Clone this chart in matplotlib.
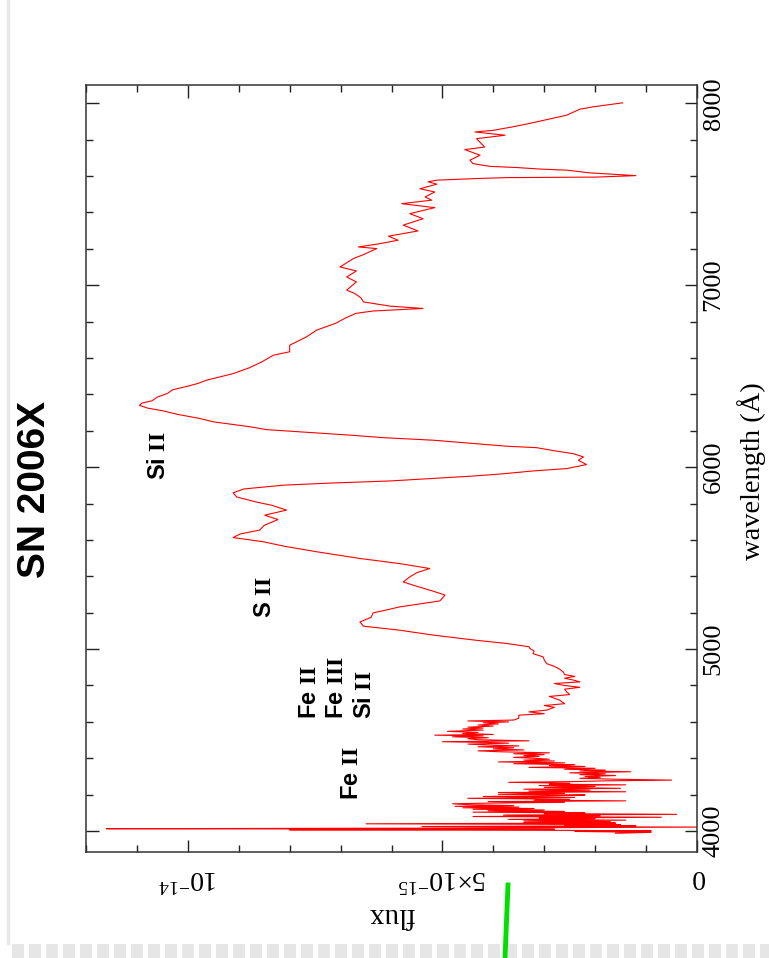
import matplotlib
matplotlib.use("Agg")
import matplotlib.pyplot as plt
from matplotlib.ticker import MultipleLocator, FixedLocator
from matplotlib.lines import Line2D
from matplotlib.patches import Rectangle

# spectrum of SN 2006X, wavelength in Angstrom, flux in units of 1e-15
wave = [3988, 3993, 3998, 4001, 4004, 4007, 4010, 4013, 4016, 4019,
        4022, 4025, 4029, 4033, 4036, 4040, 4044, 4048, 4052, 4056,
        4060, 4064, 4068, 4072, 4076, 4080, 4084, 4088, 4092, 4096,
        4100, 4104, 4108, 4112, 4116, 4120, 4124, 4128, 4132, 4136,
        4140, 4145, 4150, 4154, 4158, 4162, 4166, 4170, 4175, 4180,
        4185, 4190, 4194, 4198, 4202, 4207, 4212, 4216, 4220, 4225,
        4230, 4235, 4240, 4245, 4250, 4254, 4258, 4263, 4268, 4272,
        4276, 4280, 4285, 4290, 4295, 4300, 4305, 4310, 4315, 4320,
        4326, 4330, 4335, 4340, 4345, 4350, 4355, 4360, 4365, 4370,
        4375, 4380, 4385, 4390, 4395, 4400, 4405, 4410, 4415, 4420,
        4425, 4430, 4436, 4441, 4446, 4452, 4458, 4463, 4468, 4473,
        4478, 4483, 4487, 4491, 4496, 4502, 4508, 4513, 4518, 4523,
        4527, 4531, 4536, 4542, 4548, 4555, 4561, 4566, 4571, 4577,
        4583, 4589, 4595, 4600, 4605, 4610, 4620, 4637, 4645, 4655,
        4665, 4680, 4690, 4700, 4720, 4740, 4750, 4765, 4780, 4790,
        4800, 4811, 4820, 4830, 4840, 4850, 4860, 4875, 4890, 4905,
        4920, 4940, 4957, 4975, 4990, 5003, 5013, 5031, 5049, 5077,
        5104, 5126, 5149, 5175, 5199, 5215, 5232, 5250, 5265, 5280,
        5297, 5320, 5345, 5369, 5397, 5420, 5443, 5470, 5498, 5535,
        5565, 5590, 5613, 5632, 5654, 5680, 5712, 5736, 5764, 5791,
        5808, 5836, 5859, 5880, 5901, 5913, 5924, 5938, 5951, 5962,
        5979, 5992, 6014, 6038, 6056, 6074, 6090, 6107, 6115, 6133,
        6148, 6162, 6176, 6194, 6206, 6222, 6249, 6267, 6290, 6310,
        6325, 6340, 6352, 6365, 6385, 6405, 6425, 6445, 6460, 6478,
        6514, 6545, 6578, 6615, 6634, 6670, 6716, 6753, 6790, 6820,
        6845, 6858, 6872, 6885, 6908, 6930, 6954, 6973, 7018, 7045,
        7078, 7100, 7146, 7168, 7201, 7210, 7228, 7247, 7269, 7298,
        7330, 7365, 7393, 7426, 7448, 7467, 7485, 7512, 7530, 7555,
        7568, 7577, 7586, 7591, 7594, 7602, 7617, 7632, 7638, 7646,
        7653, 7668, 7687, 7714, 7745, 7759, 7805, 7824, 7842, 7851,
        7869, 7885, 7910, 7934, 7967, 7980, 8002]
flux = [1.6, 0.9, 2.4, 0.9, 2.7, 8.0, 2.8, 11.6, 5.4, 2.8,
        -0.05, 5.4, 1.2, 2.6, 1.5, 6.5, 1.6, 3.4, 1.7, 3.4,
        1.4, 3.7, 2.0, 3.1, 0.7, 4.4, 1.9, 3.8, 0.4, 3.0,
        2.2, 4.4, 2.6, 4.1, 3.0, 4.4, 3.2, 4.6, 3.5, 4.75,
        3.6, 4.5, 4.8, 4.0, 2.6, 4.1, 1.4, 3.2, 2.5, 4.5,
        2.4, 4.2, 2.8, 2.2, 3.9, 2.6, 3.9, 1.4, 3.3, 2.1,
        3.4, 1.5, 3.0, 2.0, 3.1, 1.4, 2.9, 2.5, 3.7, 2.4,
        1.8, 0.5, 1.6, 2.3, 1.9, 2.2, 1.6, 2.3, 1.8, 2.5,
        1.3, 2.3, 1.8, 2.6, 2.0, 3.3, 2.2, 2.9, 2.4, 3.6,
        2.6, 3.9, 2.8, 3.4, 2.9, 3.2, 3.6, 3.1, 3.4, 3.0,
        3.6, 2.9, 3.9, 4.3, 3.4, 4.0, 3.6, 4.3, 3.5, 4.1,
        4.5, 3.7, 4.1, 5.0, 3.3, 4.3, 4.5, 4.1, 4.8, 4.2,
        5.15, 4.0, 4.6, 4.3, 4.9, 4.2, 4.6, 4.2, 4.5, 4.0,
        4.3, 3.9, 4.2, 3.7, 4.5, 3.6, 3.5, 3.5, 3.0, 3.3,
        2.95, 2.8, 3.0, 2.6, 2.7, 2.9, 2.5, 2.56, 2.6, 2.3,
        2.6, 2.8, 2.3, 2.43, 2.6, 2.4, 2.6, 2.63, 2.7, 2.8,
        2.95, 3.0, 3.02, 3.22, 3.2, 3.28, 3.3, 3.74, 4.35, 5.18,
        5.84, 6.55, 6.62, 6.4, 6.36, 6.1, 5.84, 5.4, 5.05, 5.0,
        4.95, 5.2, 5.5, 5.77, 5.64, 5.5, 5.25, 5.84, 6.62, 7.47,
        8.1, 8.52, 9.11, 8.98, 8.59, 8.5, 8.23, 8.49, 8.06, 8.36,
        8.65, 9.04, 9.11, 8.9, 8.12, 7.14, 6.03, 5.18, 4.40, 3.87,
        3.22, 2.56, 2.17, 2.33, 2.23, 2.43, 2.8, 3.15, 3.74, 4.52,
        5.18, 6.16, 6.82, 7.80, 8.45, 8.78, 9.50, 9.76, 10.2, 10.5,
        10.8, 10.95, 10.9, 10.7, 10.6, 10.4, 10.3, 10.0, 9.8, 9.63,
        9.11, 8.8, 8.55, 8.32, 8.0, 8.0, 7.67, 7.47, 7.1, 6.9,
        6.7, 6.36, 5.38, 6.03, 6.55, 6.6, 6.72, 6.88, 6.69, 6.88,
        6.69, 7.01, 6.75, 6.55, 6.29, 6.65, 6.23, 5.87, 6.06, 5.48,
        5.77, 5.38, 5.64, 5.15, 5.80, 5.21, 5.34, 5.15, 5.44, 5.11,
        5.28, 5.11, 4.33, 3.74, 1.97, 1.20, 2.10, 2.56, 3.08, 3.51,
        4.07, 4.40, 4.46, 4.26, 4.56, 4.17, 4.33, 3.77, 4.36, 4.0,
        3.64, 3.35, 2.95, 2.56, 2.30, 2.04, 1.46]

# line identifications: text, flux, wavelength where the text starts
ion_names = ["Si $\\mathbf{II}$", "S $\\mathbf{II}$", "Fe $\\mathbf{II}$",
             "Fe $\\mathbf{III}$", "Si $\\mathbf{II}$", "Fe $\\mathbf{II}$"]
ion_flux = [10.57, 8.49, 7.62, 7.09, 6.54, 6.78]
ion_wave = [5929, 5170, 4615, 4615, 4615, 4170]

plt.rcParams['mathtext.fontset'] = 'custom'
plt.rcParams['mathtext.rm'] = 'Liberation Serif'
plt.rcParams['mathtext.it'] = 'Liberation Serif:italic'
plt.rcParams['mathtext.bf'] = 'Liberation Serif:bold'
plt.rcParams['font.family'] = 'Liberation Serif'

fig = plt.figure(figsize=(7.69, 9.58), dpi=100)
ax = fig.add_axes([86/769, 106/958, 611/769, 767/958])

ax.plot([f*1e-15 for f in flux], wave, color='#ff0000', lw=0.8)

ax.set_xlim(12e-15, 0)
ax.set_ylim(3885, 8100)

ax.xaxis.set_major_locator(FixedLocator([0, 5e-15, 1e-14]))
ax.xaxis.set_minor_locator(MultipleLocator(1e-15))
ax.set_xticklabels(['0', r'$5{\times}10^{-15}$', r'$10^{-14}$'])
ax.yaxis.set_major_locator(MultipleLocator(1000))
ax.yaxis.set_minor_locator(MultipleLocator(200))

ax.tick_params(which='both', direction='in', top=True, bottom=True,
               left=True, right=True, labelleft=False, labelright=True,
               color='#222222', width=1.0)
ax.tick_params(which='major', length=9)
ax.tick_params(which='minor', length=5)
ax.tick_params(axis='x', labelsize=20, pad=9, labelrotation=180)
ax.tick_params(axis='y', labelsize=19, pad=4, labelrotation=90)
for lab in ax.get_yticklabels():
    lab.set_verticalalignment('center')
for sp in ax.spines.values():
    sp.set_color('#333333')
    sp.set_linewidth(1.1)

for name, fx, wl in zip(ion_names, ion_flux, ion_wave):
    ax.text(fx*1e-15, wl, name, rotation=90, ha='center', va='bottom',
            fontsize=17, fontweight='bold', family='Liberation Sans')

fig.text(35/769, 1-489/958, 'SN 2006X', rotation=90, ha='center', va='center',
         fontsize=28, fontweight='bold', family='Liberation Sans')
fig.text(391/769, 1-915/958, 'flux', rotation=180, ha='center', va='center',
         fontsize=21)
fig.text(752/769, 1-471/958, 'wavelength (Å)', rotation=90, ha='center',
         va='center', fontsize=20.5)

# page border and marker line along the bottom
fig.add_artist(Line2D([8/769, 8/769], [15/958, 1], color='#e8e8e8', lw=2.5))
x0 = 12
while x0 < 769:
    fig.add_artist(Rectangle((x0/769, 0), 12/769, 14/958, color='#e6e6e6',
                             lw=0))
    x0 += 17
fig.add_artist(Line2D([508/769, 505/769], [1-885/958, 0], color='#00e000',
                      lw=3.5))

fig.savefig('out.png', dpi=100, facecolor='white')
